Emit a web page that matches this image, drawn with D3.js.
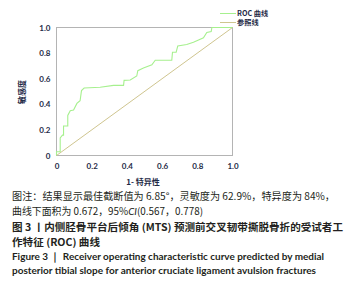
<!DOCTYPE html>
<html><head><meta charset="utf-8">
<script src="https://cdn.jsdelivr.net/npm/d3@7"></script>
<style>body{margin:0;background:#fff}svg{display:block}</style>
</head><body>
<svg id="c" width="351" height="286"></svg>
<script>
// ROC curve points (1 - specificity, sensitivity)
const fpr = [0,0,0.021,0.021,0.034,0.040,0.040,0.064,0.064,0.078,0.097,0.116,0.134,0.142,0.157,0.248,0.324,0.381,0.384,0.419,0.456,0.462,0.494,0.542,0.561,0.655,0.659,0.680,0.689,0.740,0.778,0.807,0.835,0.854,0.879,0.883,1];
const tpr = [0,0.029,0.029,0.138,0.159,0.159,0.230,0.230,0.313,0.350,0.355,0.407,0.428,0.507,0.527,0.533,0.548,0.548,0.587,0.590,0.621,0.663,0.684,0.708,0.744,0.744,0.807,0.807,0.856,0.867,0.885,0.903,0.919,0.961,0.969,1,1];
const refX = [0,1];
const refY = [0,1];
const ticks = [0,0.2,0.4,0.6,0.8,1.0];
const tickLabels = ["0","0.2","0.4","0.6","0.8","1.0"];
const legendLabels = ["ROC 曲线","参照线"];
const xTitle = "1- 特异性";
const yTitle = "敏感度";

const svg = d3.select("#c");
const L=56.5,R=232.5,T=27.5,B=155.5;
const x = d3.scaleLinear().domain([0,1]).range([L,R]);
const y = d3.scaleLinear().domain([0,1]).range([B,T]);
const green="#a6f08e", tan="#cfc58f", frame="#b4b4b4", tickCol="#1e2a46";

svg.append("rect").attr("x",L).attr("y",T).attr("width",R-L).attr("height",B-T)
  .attr("fill","none").attr("stroke",frame).attr("stroke-width",1);

const line = d3.line().x(d=>x(d[0])).y(d=>y(d[1]));
svg.append("path").datum(refX.map((v,i)=>[v,refY[i]])).attr("d",line)
  .attr("fill","none").attr("stroke",tan).attr("stroke-width",1);
svg.append("path").datum(fpr.map((v,i)=>[v,tpr[i]])).attr("d",line)
  .attr("fill","none").attr("stroke",green).attr("stroke-width",1.1);

const yAx = svg.append("g").attr("transform",`translate(${L},0)`)
  .call(d3.axisLeft(y).tickValues(ticks).tickFormat((d,i)=>tickLabels[i]).tickSize(0).tickPadding(6));
const xAx = svg.append("g").attr("transform",`translate(0,${B})`)
  .call(d3.axisBottom(x).tickValues(ticks).tickFormat((d,i)=>tickLabels[i]).tickSize(0).tickPadding(8));
[yAx,xAx].forEach(g=>{g.select(".domain").remove();
  g.selectAll("text").attr("fill",tickCol).attr("font-family","Lato, 'Open Sans', sans-serif")
   .attr("font-weight","bold").attr("font-size","8px");});

svg.append("text").attr("x",143).attr("y",185).attr("text-anchor","middle")
  .attr("font-family","'Noto Sans CJK SC'").attr("font-size","8px").attr("font-weight","bold").attr("fill",tickCol).text(xTitle);
svg.append("text").attr("transform","translate(25,92) rotate(-90)").attr("text-anchor","middle")
  .attr("font-family","'Noto Sans CJK SC'").attr("font-size","8px").attr("font-weight","bold").attr("fill",tickCol).text(yTitle);

// legend
[green,tan].forEach((c,i)=>{
  const ly = 13.5 + i*9;
  svg.append("line").attr("x1",220).attr("x2",236).attr("y1",ly).attr("y2",ly).attr("stroke",c).attr("stroke-width",1);
  svg.append("text").attr("x",237).attr("y",ly+2.7).attr("font-family","'Noto Sans CJK SC'")
    .attr("font-size","7.2px").attr("font-weight","bold").attr("fill",tickCol).text(legendLabels[i]);
});

// caption
const cap = svg.append("g").attr("fill","#231f20");
function t(xx,yy,len,weight,fam,size){
  return cap.append("text").attr("x",xx).attr("y",yy).attr("font-family",fam)
    .attr("font-size",size).attr("font-weight",weight).attr("textLength",len).attr("lengthAdjust","spacingAndGlyphs");
}
const cjk="'Noto Sans CJK SC'";
const lat="Lato, 'Open Sans', sans-serif";
t(12,200,323,"normal",cjk,"10px").text("图注：结果显示最佳截断值为 6.85°，灵敏度为 62.9%，特异度为 84%，");
const l2 = t(12,215,191,"normal",cjk,"10px");
l2.append("tspan").text("曲线下面积为 0.672，95%");
l2.append("tspan").attr("font-style","italic").attr("font-family",lat).text("CI");
l2.append("tspan").text("(0.567，0.778)");
t(12,231,331,"bold",cjk,"10px").text("图 3 丨内侧胫骨平台后倾角 (MTS) 预测前交叉韧带撕脱骨折的受试者工");
t(12,246,88,"bold",cjk,"10px").text("作特征 (ROC) 曲线");
t(12,260,312,"bold",lat,"10px").text("Figure 3 ｜ Receiver operating characteristic curve predicted by medial");
t(12,274,304,"bold",lat,"10px").text("posterior tibial slope for anterior cruciate ligament avulsion fractures");
</script>
</body></html>
